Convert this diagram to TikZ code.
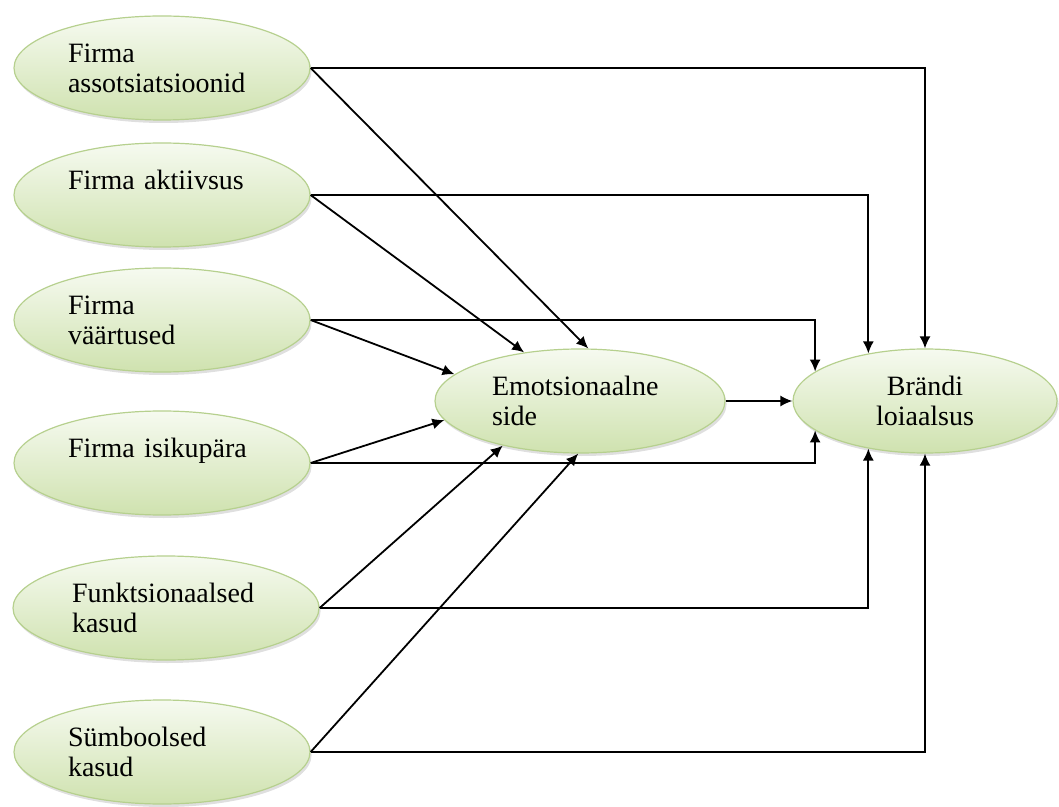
\documentclass[tikz,border=0pt]{standalone}
\usepackage{fontspec}
\setmainfont{Liberation Serif}
\usepackage{tikz}
\usetikzlibrary{arrows.meta,shapes,shadows}

\definecolor{ovaltop}{HTML}{F6FAF0}
\definecolor{ovalbot}{HTML}{CFE2AF}
\definecolor{ovalline}{HTML}{B6D08E}

\begin{document}
\begin{tikzpicture}[x=0.5pt,y=-0.5pt,
  oval/.style={ellipse, draw=ovalline, line width=0.6pt, top color=ovaltop, bottom color=ovalbot,
    minimum width=148pt, minimum height=52pt, inner sep=0pt, font=\fontsize{14}{15}\selectfont,
    drop shadow={opacity=0.25, shadow xshift=0.8pt, shadow yshift=-1.5pt}},
  lefttext/.style={align=left, text width=94pt},
  link/.style={-{Latex[length=6pt,width=5.5pt]}, line width=0.9pt}]

\useasboundingbox (0,0) rectangle (1059,807);

\node[oval,lefttext] (ass) at (162,68) {Firma\\assotsiatsioonid};
\node[oval,lefttext] (akt) at (162,195) {Firma aktiivsus\\\mbox{}};
\node[oval,lefttext] (vaa) at (162,320) {Firma\\väärtused};
\node[oval,lefttext] (isi) at (162,463) {Firma isikupära\\\mbox{}};
\node[oval,lefttext,minimum width=153pt] (fun) at (166,608) {Funktsionaalsed\\kasud};
\node[oval,lefttext] (sym) at (162,752) {Sümboolsed\\kasud};

\node[oval,align=left,text width=88pt,minimum width=145pt] (emo) at (580,401) {Emotsionaalne\\side};
\node[oval,align=center,minimum width=132pt] (bra) at (925,401) {Brändi\\loiaalsus};

%\draw (ass.east) -- (bra.north);
\draw[link] (ass.east) -| (bra.north);
\draw[link] (ass.east) -- (emo.81);
\draw[link] (akt.east) -| (bra.140);
\draw[link] (akt.east) -- (emo.139);
\draw[link] (vaa.east) -| (bra.165);
\draw[link] (vaa.east) -- (emo.168);
\draw[link] (isi.east) -| (bra.195);
\draw[link] (isi.east) -- (emo.188);
\draw[link] (fun.east) -| (bra.220);
\draw[link] (fun.east) -- (emo.210);
\draw[link] (sym.east) -| (bra.south);
\draw[link] (sym.east) -- (emo.268);
\draw[link] (emo) -- (bra);
\end{tikzpicture}
\end{document}
